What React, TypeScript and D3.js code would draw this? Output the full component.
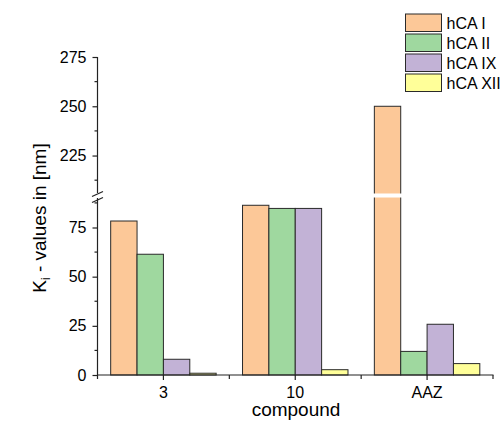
import React, { useRef, useEffect } from 'react';
import * as d3 from 'd3';

const compounds = ['3', '10', 'AAZ'];
const series = ['hCA I', 'hCA II', 'hCA IX', 'hCA XII'];
const hcaI = [78.3, 86.3, 250];
const hcaII = [61.4, 84.7, 12.0];
const hcaIX = [8.0, 84.7, 25.8];
const hcaXII = [0.9, 2.7, 5.8];
const lowerTicks = [0, 25, 50, 75];
const upperTicks = [225, 250, 275];
const colors = ['#FCC898', '#9FD89F', '#C2B2D6', '#FFFF99'];

const FONT = '"Liberation Sans", Arial, sans-serif';

const App = () => {
  const ref = useRef<SVGSVGElement>(null);

  useEffect(() => {
    const svg = d3.select(ref.current);
    svg.selectAll('*').remove();

    const values = [hcaI, hcaII, hcaIX, hcaXII];
    const breakLow = 90;
    const breakHigh = 206;
    const yLow = d3.scaleLinear().domain([0, breakLow]).range([375, 198]);
    const yUp = d3.scaleLinear().domain([breakHigh, 275]).range([193, 57]);
    const y = (v: number) => (v <= breakLow ? yLow(v) : yUp(v));

    const x = d3.scaleBand().domain(compounds).range([97.5, 493]);
    const bw = x.bandwidth();
    const xs = d3.scaleBand().domain(series).range([bw * 0.1, bw * 0.9]);

    // bars
    const bars = compounds.flatMap((c, ci) =>
      series.map((s, si) => ({ c, s, si, v: values[si][ci] }))
    );
    const g = svg.append('g');
    g.selectAll('rect')
      .data(bars)
      .join('rect')
      .attr('x', d => (x(d.c) as number) + (xs(d.s) as number))
      .attr('width', xs.bandwidth())
      .attr('y', d => y(d.v))
      .attr('height', d => 375 - y(d.v))
      .attr('fill', d => colors[d.si])
      .attr('stroke', '#2a2a2a')
      .attr('stroke-width', 1);

    // white gap on bars crossing the break
    g.selectAll('rect.gap')
      .data(bars.filter(d => d.v > breakLow))
      .join('rect')
      .attr('class', 'gap')
      .attr('x', d => (x(d.c) as number) + (xs(d.s) as number) - 2)
      .attr('width', xs.bandwidth() + 4)
      .attr('y', 193.5)
      .attr('height', 4)
      .attr('fill', 'white');

    // y axis, two segments
    const axLow = d3.axisLeft(yLow).tickValues(lowerTicks).tickSize(5).tickPadding(6);
    const axUp = d3.axisLeft(yUp).tickValues(upperTicks).tickSize(5).tickPadding(6);
    [axLow, axUp].forEach(ax => {
      const a = svg.append('g').attr('transform', 'translate(97.5,0)').call(ax);
      a.select('.domain').remove();
      a.selectAll('line').attr('stroke', '#222').attr('stroke-width', 1.2);
      a.selectAll('text')
        .attr('font-family', FONT)
        .attr('font-size', 16)
        .attr('fill', '#000');
    });
    // minor ticks
    const minorLow = [12.5, 37.5, 62.5, 87.5];
    const minorUp = [212.5, 237.5, 262.5];
    svg.append('g')
      .selectAll('line')
      .data([...minorLow.map(yLow), ...minorUp.map(yUp)])
      .join('line')
      .attr('x1', 94.5)
      .attr('x2', 97.5)
      .attr('y1', d => d)
      .attr('y2', d => d)
      .attr('stroke', '#222')
      .attr('stroke-width', 1.2);

    // axis lines with break
    svg.append('line')
      .attr('x1', 97.5).attr('x2', 97.5)
      .attr('y1', 57).attr('y2', 193)
      .attr('stroke', '#222').attr('stroke-width', 1.2);
    svg.append('line')
      .attr('x1', 97.5).attr('x2', 97.5)
      .attr('y1', 198).attr('y2', 375)
      .attr('stroke', '#222').attr('stroke-width', 1.2);
    [[196.5, 191.5], [202.5, 197.5]].forEach(([a, b]) => {
      svg.append('line')
        .attr('x1', 92).attr('x2', 103)
        .attr('y1', a).attr('y2', b)
        .attr('stroke', '#222').attr('stroke-width', 1.2);
    });

    // x axis
    const axX = d3.axisBottom(x).tickSize(5).tickPadding(6.5);
    const gx = svg.append('g').attr('transform', 'translate(0,375)').call(axX);
    gx.select('.domain').remove();
    gx.selectAll('line').attr('stroke', '#222').attr('stroke-width', 1.2);
    gx.selectAll('text')
      .attr('font-family', FONT)
      .attr('font-size', 16)
      .attr('fill', '#000');
    const bounds = [...compounds.map(c => x(c) as number), 493];
    svg.append('g')
      .selectAll('line')
      .data(bounds)
      .join('line')
      .attr('x1', d => d).attr('x2', d => d)
      .attr('y1', 375).attr('y2', 379)
      .attr('stroke', '#222').attr('stroke-width', 1.2);
    svg.append('line')
      .attr('x1', 97).attr('x2', 493.5)
      .attr('y1', 375).attr('y2', 375)
      .attr('stroke', '#222').attr('stroke-width', 1.2);

    // axis titles
    svg.append('text')
      .attr('x', 296).attr('y', 416)
      .attr('text-anchor', 'middle')
      .attr('font-family', FONT)
      .attr('font-size', 19)
      .text('compound');

    const yt = svg.append('text')
      .attr('transform', 'translate(46,218) rotate(-90)')
      .attr('text-anchor', 'middle')
      .attr('font-family', FONT)
      .attr('font-size', 19);
    yt.append('tspan').text('K');
    yt.append('tspan').attr('font-size', 12).attr('dy', 4).text('i');
    yt.append('tspan').attr('dy', -4).text(' - values in [nm]');

    // legend
    const lg = svg.append('g')
      .selectAll('g')
      .data(series)
      .join('g')
      .attr('transform', (d, i) => `translate(405.5,${14 + i * 20})`);
    lg.append('rect')
      .attr('width', 36).attr('height', 17.5)
      .attr('fill', (d, i) => colors[i])
      .attr('stroke', '#2a2a2a').attr('stroke-width', 1);
    lg.append('text')
      .attr('x', 41).attr('y', 14.5)
      .attr('font-family', FONT)
      .attr('font-size', 16)
      .text(d => d);
  }, []);

  return (
    <svg
      ref={ref}
      width={504}
      height={423}
      style={{ position: 'absolute', left: 0, top: 0, background: '#fff' }}
    />
  );
};

export default App;
